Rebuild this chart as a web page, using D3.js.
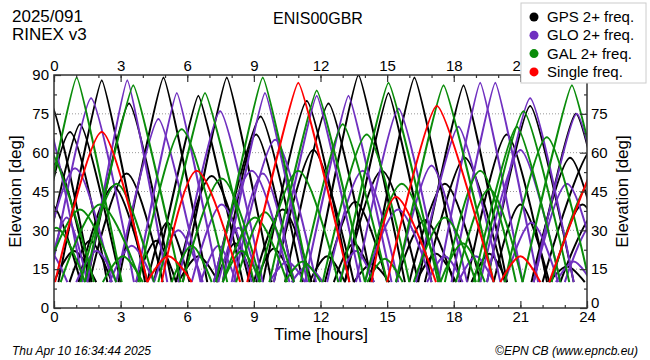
<!DOCTYPE html>
<html>
<head>
<meta charset="utf-8">
<script src="https://cdn.jsdelivr.net/npm/d3@7"></script>
<style>
  html, body { margin: 0; padding: 0; background: #fff; }
  svg { display: block; font-family: "Liberation Sans", Arial, sans-serif; }
</style>
</head>
<body>
<svg id="chart" width="650" height="360"></svg>
<script>
// ---------- data ----------
const stationName = "ENIS00GBR";
const dayLabel = "2025/091";
const rinexLabel = "RINEX v3";
const footerLeft = "Thu Apr 10 16:34:44 2025";
const footerRight = "\u00A9EPN CB (www.epncb.eu)";
const legendLabels = ["GPS 2+ freq.", "GLO 2+ freq.", "GAL 2+ freq.", "Single freq."];
const xTicks = [0, 3, 6, 9, 12, 15, 18, 21, 24];
const xMinorTicks = [0,1,2,3,4,5,6,7,8,9,10,11,12,13,14,15,16,17,18,19,20,21,22,23,24];
const yTicks = [0, 15, 30, 45, 60, 75, 90];
const yMinorTicks = [7.5, 22.5, 37.5, 52.5, 67.5, 82.5];
const elevationMask = 10;

// each pass: [rise time (h), peak time (h), peak elevation (deg), set time (h)]
const gpsPasses = [
  [-2.1,-0.2,80,1.7],[-1.0,0.72,68,2.4],[-0.6,1.17,71,3.0],[0.2,2.15,88,4.1],
  [1.5,3.38,79,5.3],[1.6,3.27,52,4.9],[1.1,2.67,47,4.2],[0.7,1.62,26,2.6],
  [-1.5,0.1,56,1.6],[-1.0,-0.1,40,1.2],[0.0,0.9,22,1.9],
  [2.9,4.93,89,6.9],[5.8,7.78,89,9.8],[4.5,6.5,82,8.5],[7.2,9.3,74,11.2],
  [7.6,9.1,67,10.8],[5.5,7.1,51,8.8],[4.2,5.1,33,6.1],[3.7,4.6,26,5.5],
  [5.6,6.5,20,7.4],[7.3,8.15,25,9.0],[9.4,11.38,80,13.3],[10.4,12.36,79,14.3],
  [11.7,13.71,90,15.8],[9.9,11.68,61,13.5],[12.2,13.56,41,15.0],[9.1,9.9,23,10.8],
  [11.5,12.3,20,13.1],[12.6,13.5,25,14.4],[9.0,10.3,38,11.6],
  [13.1,15.06,83,17.0],[14.2,16.23,89,18.3],[16.4,18.44,86,20.4],[13.1,14.76,53,16.4],
  [16.7,18.5,58,20.3],[15.4,16.7,34,18.0],[13.5,14.3,17,15.1],[16.3,17.2,21,18.1],
  [16.0,17.6,48,19.2],[19.5,21.44,78,23.4],[18.6,20.39,67,22.2],[21.6,23.5,75,25.4],
  [21.5,23.24,58,25.0],[18.8,19.6,21,20.4],[22.3,23.1,16,23.9],[19.8,21.0,40,22.3],
  [22.4,23.8,40,25.2],[22.0,24.3,62,26.5],[22.8,24.5,38,26.0]
];
const gloPasses = [
  [-2.3,-0.5,78,1.3],[-0.2,1.67,81,3.6],[-0.7,0.95,54,2.6],[-0.3,0.57,35,1.5],
  [1.0,1.92,22,2.8],[-0.8,-0.2,22,0.6],[1.5,3.3,88,5.1],[2.8,4.7,73,6.6],
  [3.7,5.53,83,7.4],[5.6,7.48,76,9.4],[7.2,8.9,53,10.6],[6.2,7.55,40,8.9],
  [7.4,8.3,31,9.2],[6.6,7.4,24,8.2],[7.6,9.5,83,11.4],[8.1,9.96,65,11.8],
  [8.0,9.4,52,10.8],[9.7,10.5,18,11.3],[10.7,11.4,16,12.1],[9.9,11.83,82,13.8],
  [11.3,13.26,82,15.2],[12.3,13.9,53,15.5],[13.6,15.51,77,17.4],[14.0,15.5,38,17.0],
  [16.3,18.21,70,20.1],[15.4,17.0,55,18.6],[16.8,17.6,20,18.4],[18.2,19.0,20,19.8],
  [17.3,19.19,87,21.1],[17.9,19.87,87,21.8],[19.5,21.44,81,23.4],[21.6,23.54,75,25.4],
  [21.6,23.1,48,24.6],[19.2,21.0,61,22.8],[22.6,23.4,18,24.2],[2.5,3.5,24,4.5],
  [4.5,5.6,30,6.7],[12.8,13.6,22,14.4],[20.3,21.5,33,22.7],[23.0,24.3,33,25.6]
];
const galPasses = [
  [-1.0,1.02,89,3.05],[-2.0,-0.3,62,1.8],[1.4,3.57,86,5.7],[0.3,2.07,40,3.9],
  [-0.5,1.17,38,2.8],[1.2,2.82,48,4.5],[-1.2,0.1,31,1.4],[4.7,6.8,83,9.0],
  [3.8,5.75,69,7.8],[7.3,9.4,89,11.5],[5.8,7.55,50,9.3],[7.6,9.05,35,10.5],
  [7.6,8.45,22,9.3],[9.7,11.83,84,14.0],[11.1,13.0,71,15.0],[9.2,11.0,53,12.8],
  [12.1,14.08,67,16.0],[10.4,11.2,18,12.0],[8.2,9.5,37,10.8],[12.9,15.06,87,17.3],
  [15.4,17.54,86,19.8],[14.0,15.66,48,17.4],[16.2,17.6,35,19.0],[14.1,14.9,19,15.7],
  [17.4,18.4,25,19.4],[19.1,21.14,76,23.2],[18.9,20.84,70,22.8],[20.3,22.19,66,24.1],
  [17.6,19.19,53,20.8],[18.1,19.6,46,21.1],[21.1,23.32,86,25.5],[22.4,24.3,50,26.2],
  [2.2,3.1,20,4.0],[5.3,6.2,24,7.1]
];
const singlePasses = [
  [0.05,2.15,68,4.2],[4.2,5.15,20,6.2],[4.85,6.43,53,8.38],[8.7,11.0,87,13.3],
  [14.3,15.4,43,17.2],[15.0,17.24,78,19.8],[20.1,21.0,20,21.9],[22.3,25.5,75,28.0]
];

// ---------- layout ----------
const W = 650, H = 360;
const plot = { left: 54, right: 587, top: 75, bottom: 308 };
const colors = { gps: "#000000", glo: "#7030c0", gal: "#0a8c0a", single: "#ff0000" };
const axisColor = "#333";

const svg = d3.select("#chart");
const x = d3.scaleLinear().domain([0, 24]).range([plot.left, plot.right]);
const y = d3.scaleLinear().domain([0, 90]).range([plot.bottom, plot.top]);

svg.append("defs").append("clipPath").attr("id", "clip")
  .append("rect").attr("x", plot.left).attr("y", plot.top)
  .attr("width", plot.right - plot.left).attr("height", plot.bottom - plot.top);

// grid
svg.append("g").selectAll("line").data(yTicks.filter(v => v > 0 && v < 90)).join("line")
  .attr("x1", plot.left).attr("x2", plot.right)
  .attr("y1", d => y(d)).attr("y2", d => y(d))
  .attr("stroke", "#999").attr("stroke-width", 1).attr("stroke-dasharray", "1,2");

// tracks
function tensionFor(el) {
  if (el >= 82) return 0.7;
  if (el >= 70) return 0.45;
  if (el >= 55) return 0.2;
  return 0;
}
function passPath(d) {
  return d3.line().x(p => x(p[0])).y(p => y(p[1]))
    .curve(d3.curveCardinal.tension(tensionFor(d[2])))
    ([[d[0], elevationMask], [d[1], d[2]], [d[3], elevationMask]]);
}
const tracks = svg.append("g").attr("clip-path", "url(#clip)");
[[gpsPasses, colors.gps], [gloPasses, colors.glo], [galPasses, colors.gal], [singlePasses, colors.single]]
  .forEach(([arr, col]) => {
    tracks.append("g").selectAll("path").data(arr).join("path")
      .attr("d", passPath).attr("fill", "none")
      .attr("stroke", col).attr("stroke-width", 2).attr("stroke-linejoin", "round");
  });

// axes
function styleAxis(g) {
  g.select(".domain").remove();
  g.selectAll(".tick line").attr("stroke", axisColor).attr("stroke-width", 1.2);
  g.selectAll(".tick text").attr("fill", "#000").attr("font-size", 15)
    .attr("font-family", "Liberation Sans, Arial, sans-serif");
}
const fmt = d3.format("d");
// labels hidden behind the legend box in the top-right corner are left blank
const topFmt = d => (d === 24 ? "" : fmt(d));
const rightFmt = d => (d === 90 ? "" : fmt(d));

svg.append("g").attr("transform", `translate(0,${plot.bottom})`)
  .call(d3.axisBottom(x).tickValues(xMinorTicks).tickSize(-3).tickFormat("")).call(styleAxis);
svg.append("g").attr("transform", `translate(0,${plot.bottom})`)
  .call(d3.axisBottom(x).tickValues(xTicks).tickSize(-7).tickPadding(3).tickFormat(fmt)).call(styleAxis);
svg.append("g").attr("transform", `translate(0,${plot.top})`)
  .call(d3.axisTop(x).tickValues(xMinorTicks).tickSize(-3).tickFormat("")).call(styleAxis);
svg.append("g").attr("transform", `translate(0,${plot.top})`)
  .call(d3.axisTop(x).tickValues(xTicks).tickSize(-7).tickPadding(4).tickFormat(topFmt)).call(styleAxis);
svg.append("g").attr("transform", `translate(${plot.left},0)`)
  .call(d3.axisLeft(y).tickValues(yMinorTicks).tickSize(-3).tickFormat("")).call(styleAxis);
svg.append("g").attr("transform", `translate(${plot.left},0)`)
  .call(d3.axisLeft(y).tickValues(yTicks).tickSize(-7).tickPadding(5).tickFormat(fmt)).call(styleAxis);
svg.append("g").attr("transform", `translate(${plot.right},0)`)
  .call(d3.axisRight(y).tickValues(yMinorTicks).tickSize(-3).tickFormat("")).call(styleAxis);
const rightAxis = svg.append("g").attr("transform", `translate(${plot.right},0)`)
  .call(d3.axisRight(y).tickValues(yTicks).tickSize(-7).tickPadding(4).tickFormat(rightFmt)).call(styleAxis);
// lift the right-hand "0" slightly so it sits just above the bottom "24"
rightAxis.selectAll(".tick").filter(d => d === 0).select("text").attr("dy", "-0.05em");

// frame
svg.append("rect").attr("x", plot.left).attr("y", plot.top)
  .attr("width", plot.right - plot.left).attr("height", plot.bottom - plot.top)
  .attr("fill", "none").attr("stroke", axisColor).attr("stroke-width", 1.5);

// titles
const txt = (s, px, py, size, anchor, extra) => {
  const t = svg.append("text").attr("x", px).attr("y", py).attr("font-size", size)
    .attr("text-anchor", anchor || "start").attr("fill", "#000").text(s);
  if (extra) extra(t);
  return t;
};
txt(dayLabel, 12, 22, 17);
txt(rinexLabel, 12, 40, 17);
txt(stationName, 318, 24, 16, "middle");
txt("Time [hours]", 321, 340, 17, "middle");
txt("Elevation [deg]", 0, 0, 17, "middle", t => t.attr("transform", `translate(21,${(plot.top + plot.bottom) / 2}) rotate(-90)`));
txt("Elevation [deg]", 0, 0, 17, "middle", t => t.attr("transform", `translate(628,${(plot.top + plot.bottom) / 2}) rotate(-90)`));
txt(footerLeft, 12, 355, 12, "start", t => t.attr("font-style", "italic"));
txt(footerRight, 638, 355, 12, "end", t => t.attr("font-style", "italic"));

// legend
const legend = svg.append("g");
legend.append("rect").attr("x", 521).attr("y", 3).attr("width", 125).attr("height", 80)
  .attr("fill", "#fff").attr("stroke", "#ccc").attr("stroke-width", 1);
const legendColors = [colors.gps, colors.glo, colors.gal, colors.single];
legendLabels.forEach((lab, i) => {
  const cy = 17 + i * 18.3;
  legend.append("circle").attr("cx", 534).attr("cy", cy).attr("r", 4.5).attr("fill", legendColors[i]);
  legend.append("text").attr("x", 547).attr("y", cy + 5).attr("font-size", 15).text(lab);
});
</script>
</body>
</html>
